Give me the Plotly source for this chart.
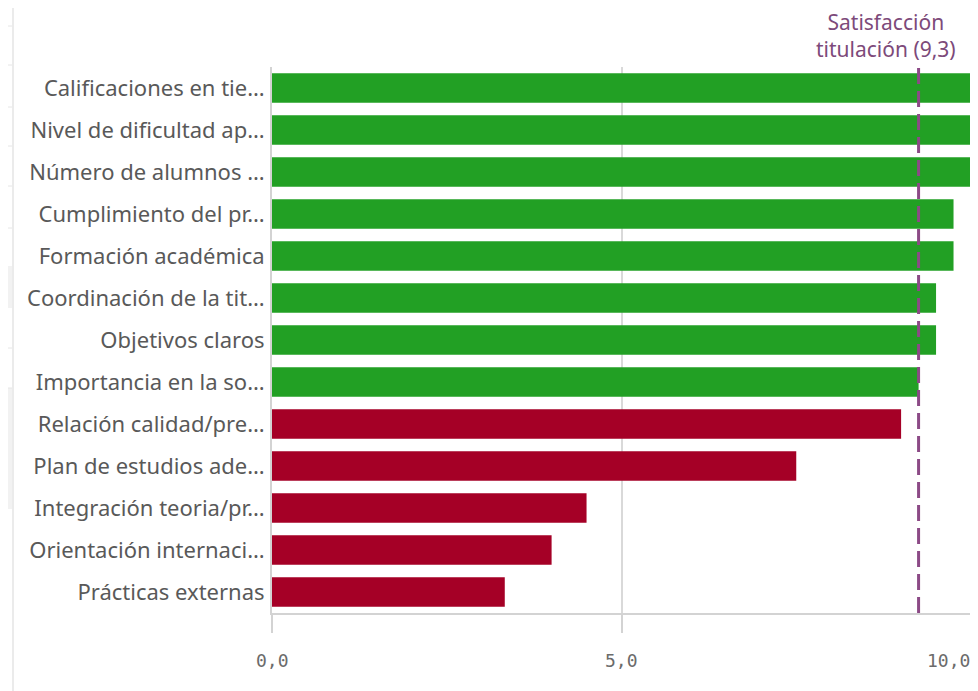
import plotly.graph_objects as go

# the page has an 8px body margin, so the figure is sized to fit inside the window
OFF = 8
W, H = 978 - OFF, 691 - OFF
L, R, T, B = 272 - OFF, 7, 67 - OFF, 78

categorias = [
    "Calificaciones en tie…",
    "Nivel de dificultad ap…",
    "Número de alumnos …",
    "Cumplimiento del pr…",
    "Formación académica",
    "Coordinación de la tit…",
    "Objetivos claros",
    "Importancia en la so…",
    "Relación calidad/pre…",
    "Plan de estudios ade…",
    "Integración teoria/pr…",
    "Orientación internaci…",
    "Prácticas externas",
]
valores = [10.0, 10.0, 10.0, 9.75, 9.75, 9.5, 9.5, 9.25, 9.0, 7.5, 4.5, 4.0, 3.33]
satisfaccion = 9.25
etiqueta_ref = "Satisfacción<br>titulación (9,3)"
ticks_x = [0, 5, 10]
ticks_txt = ["0,0", "5,0", "10,0"]

VERDE = "#22a024"
ROJO = "#a50026"
MORADO = "#8c4a86"
colores = [VERDE if v >= satisfaccion else ROJO for v in valores]

fig = go.Figure(go.Bar(
    x=valores, y=categorias, orientation="h",
    marker=dict(color=colores, line=dict(width=0)),
    width=0.7, hoverinfo="x+y",
))

pw = W - L - R
ph = H - T - B


# page pixel -> paper coords
def px_x(p):
    return (p - OFF - L) / pw


def px_y(p):
    return (H - B - (p - OFF)) / ph


shapes = [
    dict(type="line", xref="x", yref="paper", x0=satisfaccion, x1=satisfaccion,
         y0=0, y1=1.0, line=dict(color=MORADO, width=3, dash="16px,7px"), layer="above"),
    dict(type="line", xref="paper", yref="paper", x0=px_x(975), x1=px_x(975),
         y0=0, y1=1, line=dict(color="#d6d6d6", width=1.5)),
    # restos del panel de la izquierda
    dict(type="line", xref="paper", yref="paper", x0=px_x(13), x1=px_x(13),
         y0=px_y(691), y1=px_y(8), line=dict(color="#e4e4e4", width=1.5)),
    dict(type="rect", xref="paper", yref="paper", x0=px_x(8), x1=px_x(12),
         y0=px_y(308), y1=px_y(266), fillcolor="#f2f2f2", line=dict(width=0), layer="below"),
    dict(type="rect", xref="paper", yref="paper", x0=px_x(8), x1=px_x(12),
         y0=px_y(509), y1=px_y(388), fillcolor="#f2f2f2", line=dict(width=0), layer="below"),
]
for yy in [26, 65, 107, 146, 186, 228, 348, 388]:
    shapes.append(dict(type="line", xref="paper", yref="paper", x0=px_x(8), x1=px_x(12),
                       y0=px_y(yy), y1=px_y(yy), line=dict(color="#e6e6e6", width=1)))
fig.update_layout(shapes=shapes)

fig.add_annotation(
    x=px_x(886), y=px_y(36), xref="paper", yref="paper", text=etiqueta_ref,
    showarrow=False, xanchor="center", yanchor="middle", align="center",
    font=dict(family="Noto Sans, sans-serif", size=21, color="#7d4a7a"),
)

# tick labels drawn as annotations so the last one can sit right-aligned
for i, (tv, tt) in enumerate(zip(ticks_x, ticks_txt)):
    ultimo = i == len(ticks_x) - 1
    fig.add_annotation(
        x=tv, y=px_y(660), xref="x", yref="paper", text=tt, showarrow=False,
        xanchor="right" if ultimo else "center", yanchor="middle",
        xshift=1 if ultimo else 0,
        font=dict(family="DejaVu Sans Mono, monospace", size=18, color="#6b6b6b"),
    )

fig.update_xaxes(
    range=[0, 10], tickvals=ticks_x, showticklabels=False,
    showgrid=True, gridcolor="#d9d9d9", gridwidth=1.5,
    zeroline=False, showline=True, linecolor="#d3d3d3", linewidth=2,
    ticks="outside", ticklen=18, tickcolor="#d3d3d3", tickwidth=2,
    fixedrange=True,
)
fig.update_yaxes(
    autorange="reversed", showgrid=False, zeroline=False,
    showline=True, linecolor="#d3d3d3", linewidth=2,
    ticks="", ticklabelstandoff=1,
    tickfont=dict(family="Noto Sans, sans-serif", size=22, color="#595959"),
)
fig.update_layout(
    width=W, height=H, margin=dict(l=L, r=R, t=T, b=B, autoexpand=False),
    paper_bgcolor="white", plot_bgcolor="white", showlegend=False,
)

fig.write_html("out.html")
